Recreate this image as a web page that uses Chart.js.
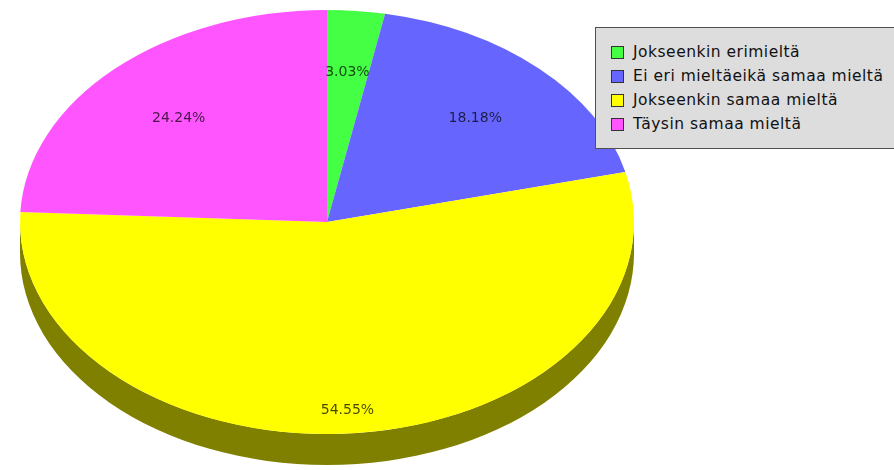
<!DOCTYPE html>
<html>
<head>
<meta charset="utf-8">
<script src="https://cdn.jsdelivr.net/npm/chart.js@4"></script>
<style>
  html, body { margin: 0; padding: 0; background: #fff; }
  #wrap { position: relative; width: 894px; height: 470px; overflow: hidden; }
  #legend {
    position: absolute; left: 595px; top: 27px; width: 310px; height: 122px;
    background: #dddddd; border: 1px solid #505050; box-sizing: border-box;
    font-family: "DejaVu Sans", sans-serif; font-size: 15.5px; letter-spacing: 0.5px; color: #111;
    padding-top: 12px;
  }
  #legend .row { height: 24px; display: flex; align-items: center; padding-left: 15px; }
  #legend .box { width: 11px; height: 11px; border: 1px solid #333; margin-right: 9px; }
</style>
</head>
<body>
<div id="wrap">
  <canvas id="myChart" width="894" height="470"></canvas>
  <div id="legend"></div>
</div>
<script>
'use strict';

let categories = ['Jokseenkin erimieltä', 'Ei eri mieltäeikä samaa mieltä', 'Jokseenkin samaa mieltä', 'Täysin samaa mieltä'];
let answerCounts = [1, 6, 18, 8];
let sliceColors = ['#44ff44', '#6666ff', '#ffff00', '#ff55ff'];

// ellipse geometry of the pie
let radiusX = 307;
let radiusY = 212;
let depth = 31;

function darken(hex){
    let n = parseInt(hex.slice(1), 16);
    let r = (n >> 16) & 255, g = (n >> 8) & 255, b = n & 255;
    return 'rgb(' + Math.round(r / 2) + ',' + Math.round(g / 2) + ',' + Math.round(b / 2) + ')';
}

// legend
let legendEl = document.getElementById('legend');
for(let i = 0; i < categories.length; i++){
    let row = document.createElement('div');
    row.className = 'row';
    let box = document.createElement('span');
    box.className = 'box';
    box.style.background = sliceColors[i];
    let txt = document.createElement('span');
    txt.textContent = categories[i];
    row.appendChild(box);
    row.appendChild(txt);
    legendEl.appendChild(row);
}

let pie3d = {
    id: 'pie3d',
    beforeDatasetsDraw(chart){
        let ctx = chart.ctx;
        let meta = chart.getDatasetMeta(0);
        let cx = meta.data[0].x, cy = meta.data[0].y;
        ctx.save();
        ctx.translate(cx, cy);
        ctx.scale(radiusX / radiusY, 1);
        ctx.translate(-cx, -cy);
        // side wall, only the front half (0..PI) shows
        meta.data.forEach(function(arc, i){
            let a0 = Math.max(arc.startAngle, 0);
            let a1 = Math.min(arc.endAngle, Math.PI);
            if(a1 <= a0) return;
            let r = arc.outerRadius;
            ctx.beginPath();
            ctx.arc(arc.x, arc.y, r, a0, a1);
            ctx.lineTo(arc.x + r * Math.cos(a1), arc.y + depth + r * Math.sin(a1));
            ctx.arc(arc.x, arc.y + depth, r, a1, a0, true);
            ctx.closePath();
            ctx.fillStyle = darken(sliceColors[i]);
            ctx.fill();
        });
    },
    afterDatasetsDraw(chart){
        let ctx = chart.ctx;
        ctx.restore();
        let meta = chart.getDatasetMeta(0);
        let total = answerCounts.reduce(function(a, b){ return a + b; }, 0);
        ctx.save();
        ctx.font = '14px "DejaVu Sans", sans-serif';
        ctx.fillStyle = 'rgba(0,0,0,0.72)';
        ctx.textAlign = 'center';
        ctx.textBaseline = 'middle';
        meta.data.forEach(function(arc, i){
            let mid = (arc.startAngle + arc.endAngle) / 2;
            let x = arc.x + 0.7 * radiusX * Math.cos(mid);
            let y = arc.y + depth * 0.62 + 0.7 * (radiusY + depth) * Math.sin(mid);
            ctx.fillText((answerCounts[i] / total * 100).toFixed(2) + '%', x, y);
        });
        ctx.restore();
    }
};

let ctx = document.getElementById('myChart').getContext('2d');
let chart = new Chart(ctx, {
    type: 'pie',
    data: {
        labels: categories,
        datasets: [{
            data: answerCounts,
            backgroundColor: sliceColors,
            borderWidth: 0,
            clip: false
        }]
    },
    options: {
        responsive: false,
        animation: false,
        events: [],
        radius: radiusY,
        layout: { padding: { left: 0, right: 240, top: 0, bottom: 26 } },
        plugins: {
            legend: { display: false },
            tooltip: { enabled: false }
        }
    },
    plugins: [pie3d]
});
</script>
</body>
</html>
